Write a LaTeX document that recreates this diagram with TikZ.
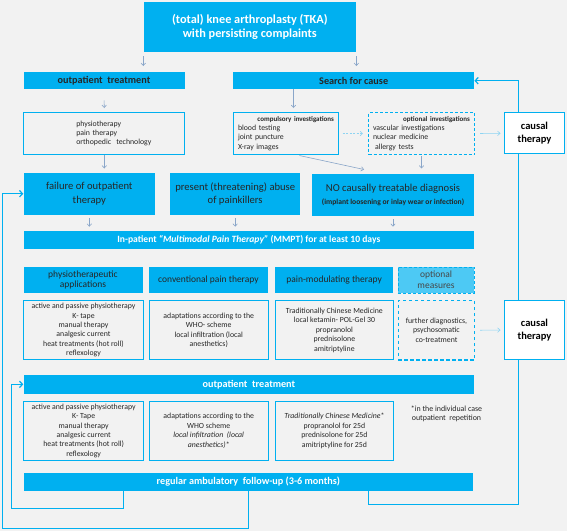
\documentclass[tikz,border=0pt]{standalone}
\usepackage{fontspec}
\setmainfont{Carlito}
\usepackage{xcolor}
\usepackage{tikz}
\usetikzlibrary{arrows.meta,positioning,calc}
\definecolor{mmcyan}{HTML}{00B0F0}
\definecolor{mmlight}{HTML}{4DC9F4}
\definecolor{mmgrey}{HTML}{F2F2F2}
\definecolor{mmarrow}{HTML}{8AA6C9}
\definecolor{mmdash}{HTML}{8ED4F2}
\definecolor{mmtext}{HTML}{262626}

\begin{document}
\begin{tikzpicture}[x=1pt, y=-1pt,
  bar/.style={fill=mmcyan, anchor=north west, inner sep=0pt, align=center,
    font=\bfseries\fontsize{10.2}{11}\selectfont},
  headbox/.style={fill=mmcyan, anchor=north west, inner sep=0pt, align=center,
    text=mmtext, font=\fontsize{10.6}{13.4}\selectfont},
  listbox/.style={draw=mmcyan, line width=1pt, anchor=north west, inner sep=0pt,
    align=center, text=mmtext, font=\fontsize{7.8}{9.4}\selectfont},
  causalbox/.style={draw=mmcyan, fill=white, line width=1pt, anchor=north west,
    inner sep=0pt, align=center, font=\bfseries\fontsize{10.5}{12.6}\selectfont},
  arr/.style={-{Straight Barb[length=2.5pt,width=4.5pt]}, mmarrow, line width=0.6pt},
  loopline/.style={-{Straight Barb[length=3pt,width=6.5pt]}, mmcyan, line width=1.2pt}
]
  \useasboundingbox (0,0) rectangle (567,531);
  \fill[mmgrey] (0,0) rectangle (567,531);

  \node[bar, text=white, minimum width=212.7pt, minimum height=50pt,
    font=\bfseries\fontsize{12.3}{14.5}\selectfont] (tka) at (143.3,1.7)
    {(total) knee arthroplasty (TKA)\\with persisting complaints};
  \node[bar, text=mmtext, minimum width=161pt, minimum height=17pt] (opout) at (23.3,72)
    {outpatient\ \ treatment};
  \node[bar, text=mmtext, minimum width=241pt, minimum height=17pt] (search) at (233,72)
    {Search for cause};
  \node[listbox, minimum width=161pt, minimum height=42pt, text width=140pt, align=left] (oplist) at (23.3,112)
    {\hspace*{42pt}physiotherapy\\\hspace*{42pt}pain therapy\\\hspace*{42pt}orthopedic\ \ technology};
  \node[listbox, minimum width=105pt, minimum height=42pt, text width=96pt, align=left] (comp) at (233,112)
    {\hspace*{\fill}{\bfseries\fontsize{7}{9.4}\selectfont compulsory investigations}\hspace*{\fill}\\blood testing\\joint puncture\\X-ray images};
  \node[listbox, dash pattern=on 3pt off 2pt, minimum width=106pt, minimum height=42pt,
    text width=97pt, align=left] (optinv) at (368,112)
    {\hspace*{\fill}{\bfseries\fontsize{7}{9.4}\selectfont optional investigations}\hspace*{\fill}\\vascular investigations\\nuclear medicine\\\hspace*{2pt}allergy tests};

  \node[headbox, minimum width=131.7pt, minimum height=42pt] (failure) at (23.3,172.5)
    {failure of outpatient\\therapy};
  \node[headbox, minimum width=130pt, minimum height=42.5pt] (abuse) at (170,172.5)
    {present\ (threatening)\ abuse\\of painkillers};
  \node[headbox, minimum width=162.4pt, minimum height=42.5pt] (nodiag) at (311.6,173.5)
    {NO causally treatable diagnosis\\{\bfseries\fontsize{7.6}{9}\selectfont(implant loosening or inlay wear or infection)}};

  \node[bar, text=white, minimum width=450.7pt, minimum height=18pt,
    font=\bfseries\fontsize{9.6}{11}\selectfont] (mmpt) at (23.3,230.7)
    {In-patient \textit{“Multimodal Pain Therapy”} (MMPT) for at least 10 days};

  \node[headbox, minimum width=119pt, minimum height=26pt, font=\fontsize{9.5}{10.5}\selectfont] (physhead) at (23.3,266.7)
    {physiotherapeutic\\applications};
  \node[headbox, minimum width=118.5pt, minimum height=26pt, font=\fontsize{9.5}{10.5}\selectfont] (convhead) at (149,266.7)
    {conventional pain therapy};
  \node[headbox, minimum width=118.2pt, minimum height=26pt, font=\fontsize{9.5}{10.5}\selectfont] (painhead) at (274.8,266.7)
    {pain-modulating therapy};
  \node[headbox, fill=mmlight, draw=mmcyan, dash pattern=on 3pt off 2pt, text=mmtext!85,
    minimum width=76.3pt, minimum height=26pt, font=\fontsize{9.5}{11.5}\selectfont] (opthead) at (397.7,266.7)
    {optional\\measures};

  \node[listbox, minimum width=119.4pt, minimum height=59.3pt] (physlist) at (23.3,300)
    {active and passive physiotherapy\\K- tape\\manual therapy\\analgesic current\\heat treatments (hot roll)\\reflexology};
  \node[listbox, minimum width=118.5pt, minimum height=59.3pt] (convlist) at (149,300)
    {adaptations according to the\\WHO- scheme\\local infiltration (local\\anesthetics)};
  \node[listbox, minimum width=118.2pt, minimum height=59.3pt] (painlist) at (274.8,300)
    {Traditionally Chinese Medicine\\local ketamin-\ POL-Gel 30\\propranolol\\prednisolone\\amitriptyline};
  \node[listbox, line width=1.2pt, dash pattern=on 3.5pt off 2.5pt, minimum width=76.3pt, minimum height=59.3pt] (optlist) at (397.7,300)
    {further diagnostics,\\psychosomatic\\co-treatment};

  \node[bar, text=white, minimum width=450.7pt, minimum height=18.3pt] (op2) at (23.3,375)
    {outpatient\ \ treatment};
  \node[listbox, minimum width=119.7pt, minimum height=59.3pt] (physlist2) at (23.3,400.7)
    {active and passive physiotherapy\\K- Tape\\manual therapy\\analgesic current\\heat treatments (hot roll)\\reflexology};
  \node[listbox, minimum width=118.5pt, minimum height=59.3pt] (convlist2) at (149,400.7)
    {adaptations according to the\\WHO scheme\\\textit{local infiltration\ \ (local}\\\textit{anesthetics)}*};
  \node[listbox, minimum width=118.2pt, minimum height=59.3pt] (painlist2) at (274.8,400.7)
    {\textit{Traditionally Chinese Medicine}*\\propranolol\ for 25d\\prednisolone for 25d\\amitriptyline for 25d};
  \node[text=mmtext, align=center, inner sep=0pt, font=\fontsize{7.9}{9.3}\selectfont] (note) at (446.5,413.7)
    {*in the individual case\\outpatient\ \ repetition};

  \node[bar, text=white, minimum width=449.7pt, minimum height=18pt] (regular) at (23.3,472.7)
    {regular\ ambulatory\ \ follow-up (3-6 months)};

  \draw[loopline] ($(regular.south)+(119.8,0)$) -- ++(0,13.5) -| ($(search.east)+(43.7,0)$) -- (search.east);
  \draw[loopline] ($(regular.south)+(-125.2,0)$) -- ++(0,17.3) -| ($(op2.west)+(-11.6,0)$) -- (op2.west);
  \draw[loopline] (regular.south) -- ++(0,37.3) -| ($(failure.west)+(-20.6,0)$) -- (failure.west);

  \node[causalbox, minimum width=60pt, minimum height=41pt] (causal1) at (504,112.3) {causal\\therapy};
  \node[causalbox, minimum width=60pt, minimum height=59pt] (causal2) at (504,300) {causal\\therapy};

  \draw[arr, shorten <=4.3pt, shorten >=6pt] (tka.south west) -- (tka.south west |- opout.north);
  \draw[arr, shorten <=4.3pt, shorten >=6pt] (tka.south east) -- (tka.south east |- search.north);
  \draw[arr, shorten <=11pt, shorten >=4pt] (opout.south) -- (oplist.north);
  \draw[arr, shorten >=4pt] (oplist.south) -- (oplist.south |- failure.north);
  \draw[arr, shorten >=4pt] ($(comp.north |- search.south)+(7.5,0)$) -- ($(comp.north)+(7.5,0)$);
  \draw[arr, mmdash, dash pattern=on 2pt off 1.5pt, shorten <=3.5pt, shorten >=5pt] (comp.east) -- (optinv.west);
  \draw[arr, mmdash, shorten <=5pt, shorten >=3.5pt] (optinv.east) -- (causal1.west);
  \draw[arr, shorten <=2.5pt] ($(comp.south)+(11,0)$) -- ($(nodiag.north)+(-29,-4)$);
  \draw[arr, shorten <=1pt, shorten >=5pt] (optinv.south) -- (optinv.south |- nodiag.north);
  \foreach \n in {failure,abuse,nodiag}
    \draw[arr, shorten <=3pt, shorten >=4pt] (\n.south) -- (\n.south |- mmpt.north);
  \draw[arr, mmdash, shorten <=5pt, shorten >=3.5pt] (optlist.east) -- (causal2.west);
\end{tikzpicture}
\end{document}
